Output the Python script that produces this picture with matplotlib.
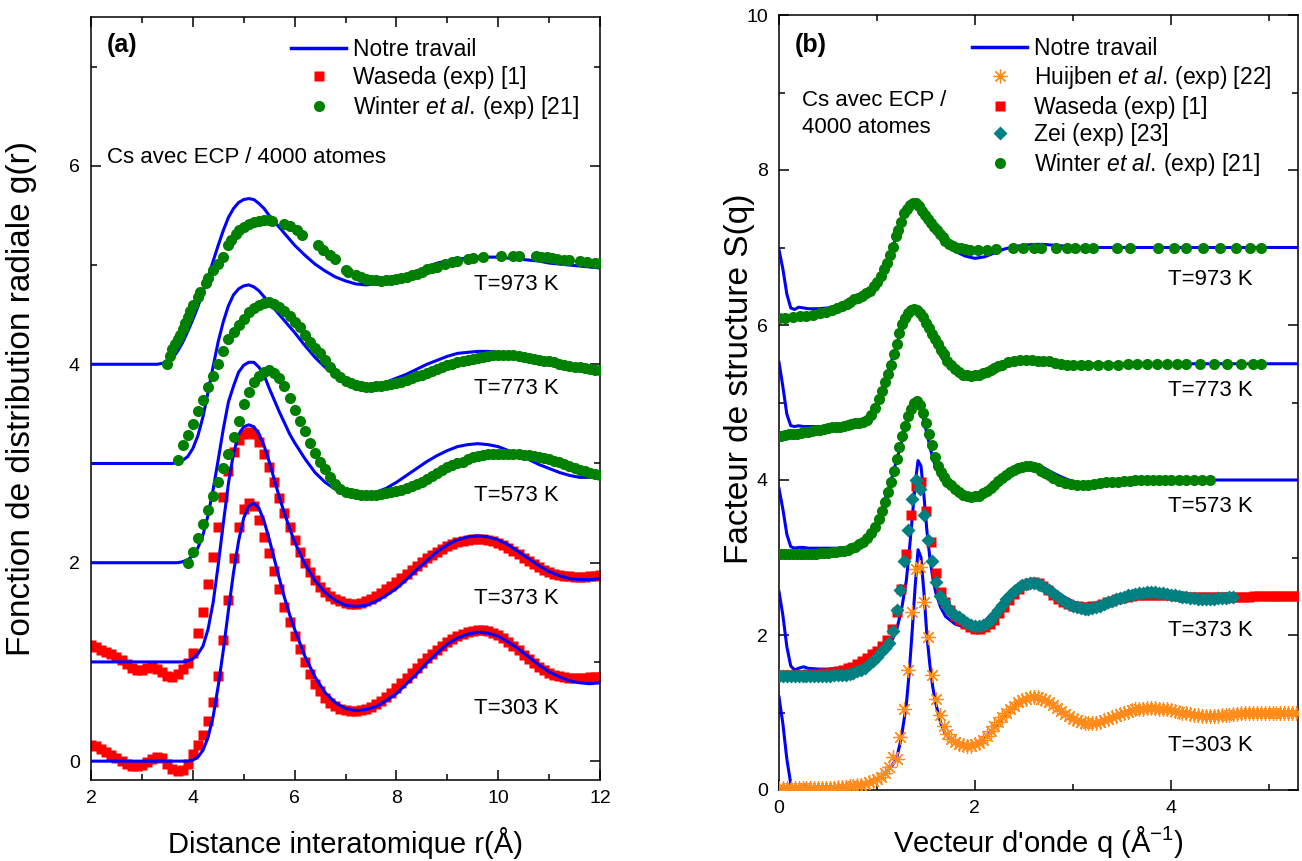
import numpy as np
import matplotlib
matplotlib.use("Agg")
import matplotlib.pyplot as plt
from matplotlib.lines import Line2D
from matplotlib.ticker import MultipleLocator

plt.rcParams['font.family'] = ['Liberation Sans', 'DejaVu Sans']
plt.rcParams['mathtext.fontset'] = 'custom'
plt.rcParams['mathtext.rm'] = 'Liberation Sans'
plt.rcParams['mathtext.it'] = 'Liberation Sans:italic'

temps = ['T=303 K', 'T=373 K', 'T=573 K', 'T=773 K', 'T=973 K']
shift_g = [0, 1, 2, 3, 4]
shift_s = [0, 1.5, 3, 4.5, 6]

# ---------------- g(r) : simulation ----------------
r_sim = [2.0, 2.5, 3.0, 3.3, 3.5, 3.6, 3.7, 3.8, 3.9, 4.0,
         4.1, 4.2, 4.3, 4.4, 4.5, 4.6, 4.7, 4.8, 4.9, 5.0,
         5.1, 5.2, 5.3, 5.4, 5.5, 5.6, 5.7, 5.8, 5.9, 6.0,
         6.2, 6.4, 6.6, 6.8, 7.0, 7.2, 7.4, 7.6, 7.8, 8.0,
         8.2, 8.4, 8.6, 8.8, 9.0, 9.2, 9.4, 9.6, 9.8, 10.0,
         10.2, 10.4, 10.6, 10.8, 11.0, 11.2, 11.4, 11.6, 11.8, 12.0]

g_303 = [0, 0, 0, 0, 0, 0, 0, 0, 0.0, 0.01,
         0.04, 0.11, 0.24, 0.45, 0.76, 1.12, 1.52, 1.9, 2.22, 2.45,
         2.57, 2.60, 2.55, 2.42, 2.24, 2.04, 1.84, 1.65, 1.48, 1.33,
         1.06, 0.85, 0.69, 0.59, 0.53, 0.51, 0.52, 0.55, 0.61, 0.68,
         0.78, 0.88, 0.99, 1.09, 1.18, 1.24, 1.28, 1.30, 1.29, 1.26,
         1.20, 1.13, 1.05, 0.97, 0.90, 0.85, 0.81, 0.79, 0.78, 0.79]
g_373 = [0, 0, 0, 0, 0, 0, 0, 0, 0.01, 0.03,
         0.08, 0.16, 0.33, 0.6, 0.98, 1.4, 1.8, 2.1, 2.29, 2.37,
         2.39, 2.37, 2.30, 2.18, 2.02, 1.84, 1.66, 1.50, 1.35, 1.21,
         0.99, 0.82, 0.70, 0.62, 0.57, 0.56, 0.57, 0.61, 0.67, 0.74,
         0.83, 0.93, 1.02, 1.11, 1.18, 1.23, 1.26, 1.27, 1.26, 1.23,
         1.18, 1.11, 1.04, 0.97, 0.91, 0.87, 0.84, 0.83, 0.83, 0.84]
g_573 = [0, 0, 0, 0, 0, 0, 0, 0.01, 0.03, 0.07,
         0.15, 0.28, 0.48, 0.74, 1.04, 1.35, 1.62, 1.78, 1.92, 1.99,
         2.02, 2.02, 1.97, 1.89, 1.76, 1.64, 1.52, 1.41, 1.30, 1.21,
         1.05, 0.91, 0.81, 0.74, 0.70, 0.68, 0.69, 0.71, 0.75, 0.81,
         0.88, 0.95, 1.02, 1.08, 1.13, 1.17, 1.19, 1.20, 1.19, 1.17,
         1.13, 1.09, 1.04, 0.99, 0.95, 0.91, 0.88, 0.86, 0.86, 0.86]
g_773 = [0, 0, 0, 0, 0, 0, 0.01, 0.03, 0.07, 0.15,
         0.28, 0.47, 0.72, 0.98, 1.23, 1.43, 1.59, 1.70, 1.76, 1.79,
         1.80, 1.78, 1.74, 1.68, 1.62, 1.56, 1.50, 1.44, 1.38, 1.32,
         1.19, 1.07, 0.97, 0.89, 0.83, 0.80, 0.79, 0.80, 0.82, 0.86,
         0.90, 0.95, 1.00, 1.04, 1.08, 1.11, 1.12, 1.13, 1.13, 1.12,
         1.10, 1.08, 1.05, 1.02, 1.00, 0.98, 0.97, 0.96, 0.96, 0.96]
g_973 = [0, 0, 0, 0, 0.02, 0.06, 0.13, 0.22, 0.33, 0.45,
         0.58, 0.73, 0.88, 1.04, 1.20, 1.35, 1.48, 1.57, 1.63, 1.66,
         1.67, 1.66, 1.62, 1.57, 1.50, 1.44, 1.38, 1.32, 1.26, 1.20,
         1.10, 1.01, 0.94, 0.88, 0.84, 0.81, 0.80, 0.81, 0.83, 0.86,
         0.90, 0.94, 0.98, 1.02, 1.04, 1.06, 1.07, 1.08, 1.08, 1.08,
         1.07, 1.06, 1.05, 1.04, 1.02, 1.01, 1.00, 0.99, 0.98, 0.97]

# ---------------- g(r) : Waseda ----------------
r_waseda = np.round(np.arange(2.0, 12.05, 0.1), 2)
gw_303 = [0.16, 0.15, 0.12, 0.09, 0.06, 0.03, 0.00, -0.03, -0.05, -0.05,
          -0.04, -0.01, 0.02, 0.04, 0.03, -0.03, -0.08, -0.10, -0.09, -0.03,
          0.07, 0.16, 0.26, 0.40, 0.60, 0.86, 1.22, 1.62, 2.05, 2.36,
          2.54, 2.60, 2.57, 2.43, 2.26, 2.10, 1.92, 1.73, 1.55, 1.40,
          1.26, 1.13, 1.00, 0.88, 0.78, 0.71, 0.64, 0.59, 0.56, 0.53,
          0.52, 0.51, 0.51, 0.52, 0.53, 0.55, 0.58, 0.61, 0.65, 0.69,
          0.74, 0.79, 0.84, 0.89, 0.94, 0.99, 1.04, 1.08, 1.12, 1.16,
          1.20, 1.23, 1.26, 1.28, 1.30, 1.31, 1.32, 1.32, 1.31, 1.29,
          1.27, 1.24, 1.20, 1.16, 1.12, 1.07, 1.03, 0.99, 0.95, 0.92,
          0.89, 0.87, 0.86, 0.85, 0.84, 0.84, 0.84, 0.84, 0.85, 0.85,
          0.85]
gw_373 = [0.17, 0.15, 0.12, 0.10, 0.08, 0.05, 0.02, -0.02, -0.06, -0.08,
          -0.08, -0.06, -0.05, -0.07, -0.10, -0.14, -0.15, -0.12, -0.07, -0.01,
          0.09, 0.29, 0.50, 0.79, 1.06, 1.36, 1.66, 1.92, 2.12, 2.24,
          2.30, 2.32, 2.30, 2.22, 2.10, 1.96, 1.81, 1.65, 1.50, 1.36,
          1.23, 1.11, 1.00, 0.91, 0.83, 0.76, 0.70, 0.66, 0.63, 0.61,
          0.59, 0.58, 0.58, 0.59, 0.61, 0.63, 0.66, 0.69, 0.73, 0.77,
          0.81, 0.85, 0.89, 0.93, 0.97, 1.01, 1.05, 1.08, 1.11, 1.14,
          1.17, 1.19, 1.21, 1.22, 1.23, 1.24, 1.24, 1.24, 1.23, 1.22,
          1.20, 1.18, 1.15, 1.12, 1.09, 1.05, 1.02, 0.99, 0.96, 0.93,
          0.91, 0.89, 0.88, 0.87, 0.87, 0.86, 0.86, 0.86, 0.87, 0.87,
          0.88]

# ---------------- g(r) : Winter et al. ----------------
r_w573 = np.round(np.arange(3.9, 12.05, 0.1), 2)
gw_573 = [0.0,
          0.11, 0.25, 0.39, 0.53, 0.67, 0.81, 0.95, 1.10, 1.27, 1.43,
          1.60, 1.72, 1.82, 1.88, 1.92, 1.94, 1.91, 1.86, 1.78, 1.66,
          1.54, 1.43, 1.33, 1.21, 1.11, 1.02, 0.94, 0.86, 0.79, 0.74,
          0.71, 0.70, 0.69, 0.68, 0.68, 0.68, 0.68, 0.69, 0.70, 0.71,
          0.72, 0.73, 0.75, 0.77, 0.79, 0.81, 0.84, 0.87, 0.90, 0.93,
          0.96, 0.98, 1.00, 1.02, 1.05, 1.07, 1.08, 1.09, 1.10, 1.10,
          1.10, 1.10, 1.10, 1.10, 1.10, 1.09, 1.09, 1.08, 1.07, 1.06,
          1.05, 1.03, 1.01, 0.99, 0.97, 0.95, 0.93, 0.92, 0.90, 0.89,
          0.88]
r_w773 = np.round(np.arange(3.7, 12.05, 0.1), 2)
gw_773 = [0.04, 0.19, 0.29,
          0.40, 0.53, 0.64, 0.77, 0.88, 1.00, 1.13, 1.25, 1.33, 1.40,
          1.46, 1.53, 1.57, 1.60, 1.62, 1.63, 1.61, 1.58, 1.54, 1.49,
          1.43, 1.38, 1.30, 1.22, 1.16, 1.11, 1.04, 0.97, 0.91, 0.87,
          0.83, 0.81, 0.79, 0.78, 0.77, 0.77, 0.78, 0.78, 0.79, 0.80,
          0.81, 0.82, 0.84, 0.86, 0.88, 0.89, 0.91, 0.93, 0.95, 0.97,
          0.99, 1.00, 1.02, 1.03, 1.04, 1.05, 1.06, 1.07, 1.08, 1.09,
          1.09, 1.09, 1.09, 1.09, 1.08, 1.07, 1.06, 1.05, 1.04, 1.03,
          1.03, 1.02, 1.00, 0.99, 0.98, 0.97, 0.97, 0.96, 0.95, 0.94,
          0.94]
r_w973 = [3.5, 3.55, 3.6, 3.65, 3.7, 3.75, 3.8, 3.85, 3.9, 3.95,
          4.0, 4.1, 4.15, 4.25, 4.3, 4.4, 4.5, 4.6, 4.7, 4.75,
          4.85, 4.9, 5.0, 5.1, 5.2, 5.3, 5.4, 5.5, 5.55, 5.8,
          5.9, 6.05, 6.15, 6.45, 6.55, 6.7, 6.8, 7.0, 7.05, 7.2,
          7.3, 7.4, 7.5, 7.6, 7.7, 7.8, 7.9, 8.0, 8.1, 8.2,
          8.3, 8.4, 8.5, 8.6, 8.7, 8.8, 8.95, 9.1, 9.2, 9.4,
          9.5, 9.7, 10.05, 10.3, 10.4, 10.75, 10.85, 10.95, 11.05, 11.15,
          11.3, 11.4, 11.6, 11.75, 11.9, 12.0]
gw_973 = [0.0, 0.08, 0.15, 0.2, 0.25, 0.3, 0.36, 0.42, 0.48, 0.54,
          0.6, 0.68, 0.73, 0.82, 0.87, 0.95, 1.01, 1.08, 1.2, 1.25,
          1.31, 1.35, 1.38, 1.41, 1.43, 1.44, 1.45, 1.45, 1.44, 1.41,
          1.39, 1.35, 1.3, 1.2, 1.15, 1.1, 1.06, 0.95, 0.93, 0.9,
          0.88, 0.86, 0.85, 0.85, 0.84, 0.85, 0.85, 0.86, 0.87, 0.88,
          0.9, 0.91, 0.93, 0.96, 0.97, 0.98, 1.01, 1.03, 1.04, 1.06,
          1.07, 1.08, 1.09, 1.09, 1.09, 1.09, 1.08, 1.08, 1.07, 1.06,
          1.05, 1.05, 1.04, 1.03, 1.02, 1.02]

# ---------------- S(q) : simulation ----------------
q_sim = [0.0, 0.04, 0.08, 0.12, 0.16, 0.2, 0.25, 0.3, 0.4, 0.5,
         0.6, 0.7, 0.8, 0.9, 1.0, 1.05, 1.1, 1.15, 1.2, 1.25,
         1.3, 1.33, 1.36, 1.39, 1.42, 1.45, 1.48, 1.51, 1.54, 1.57,
         1.6, 1.65, 1.7, 1.8, 1.9, 2.0, 2.1, 2.2, 2.3, 2.4,
         2.5, 2.6, 2.7, 2.8, 2.9, 3.0, 3.1, 3.2, 3.3, 3.4,
         3.5, 3.6, 3.7, 3.8, 3.9, 4.0, 4.2, 4.4, 4.6, 4.8,
         5.0, 5.3]
s_303 = [1.2, 0.85, 0.4, 0.08, -0.01, 0.02, 0.06, 0.03, 0.02, 0.02,
         0.03, 0.04, 0.06, 0.09, 0.14, 0.18, 0.24, 0.31, 0.4, 0.68,
         1.1, 1.52, 2.05, 2.62, 3.1, 3.0, 2.55, 2.0, 1.62, 1.33,
         1.12, 0.87, 0.72, 0.61, 0.57, 0.59, 0.67, 0.8, 0.95, 1.08,
         1.17, 1.21, 1.18, 1.1, 1.0, 0.92, 0.87, 0.86, 0.88, 0.93,
         0.98, 1.02, 1.04, 1.05, 1.05, 1.03, 0.99, 0.96, 0.97, 0.99,
         1.0, 1.0]
s_373 = [1.06, 0.75, 0.35, 0.1, 0.05, 0.07, 0.09, 0.07, 0.06, 0.06,
         0.07, 0.08, 0.1, 0.14, 0.2, 0.25, 0.32, 0.42, 0.56, 0.82,
         1.2, 1.58, 2.0, 2.45, 2.75, 2.68, 2.3, 1.85, 1.5, 1.24,
         1.05, 0.86, 0.74, 0.64, 0.6, 0.61, 0.68, 0.8, 0.94, 1.06,
         1.14, 1.18, 1.16, 1.09, 1.0, 0.93, 0.89, 0.88, 0.9, 0.94,
         0.98, 1.02, 1.04, 1.04, 1.04, 1.02, 0.99, 0.97, 0.98, 0.99,
         1.0, 1.0]
s_573 = [0.89, 0.62, 0.3, 0.14, 0.12, 0.13, 0.13, 0.12, 0.12, 0.12,
         0.12, 0.13, 0.16, 0.24, 0.45, 0.62, 0.82, 1.02, 1.25, 1.48,
         1.7, 1.83, 1.95, 2.02, 2.03, 1.92, 1.76, 1.6, 1.44, 1.28,
         1.17, 1.05, 0.97, 0.86, 0.8, 0.79, 0.84, 0.94, 1.05, 1.14,
         1.19, 1.2, 1.16, 1.09, 1.03, 0.98, 0.96, 0.96, 0.97, 0.98,
         0.99, 1.0, 1.0, 1.0, 1.0, 1.0, 1.0, 1.0, 1.0, 1.0,
         1.0, 1.0]
s_773 = [1.02, 0.7, 0.35, 0.2, 0.19, 0.2, 0.19, 0.19, 0.19, 0.19,
         0.21, 0.23, 0.25, 0.29, 0.5, 0.65, 0.84, 1.04, 1.24, 1.45,
         1.6, 1.66, 1.7, 1.71, 1.69, 1.64, 1.57, 1.49, 1.41, 1.33,
         1.25, 1.11, 1.0, 0.89, 0.84, 0.83, 0.86, 0.92, 0.98, 1.03,
         1.06, 1.07, 1.06, 1.04, 1.02, 1.01, 1.0, 1.0, 1.0, 1.0,
         1.0, 1.0, 1.0, 1.0, 1.0, 1.0, 1.0, 1.0, 1.0, 1.0,
         1.0, 1.0]
s_973 = [0.97, 0.72, 0.4, 0.22, 0.2, 0.23, 0.22, 0.21, 0.21, 0.22,
         0.24, 0.28, 0.34, 0.42, 0.55, 0.63, 0.78, 0.95, 1.15, 1.33,
         1.46, 1.52, 1.55, 1.57, 1.56, 1.51, 1.44, 1.37, 1.31, 1.25,
         1.2, 1.11, 1.04, 0.95, 0.89, 0.86, 0.88, 0.93, 0.98, 1.01,
         1.03, 1.04, 1.04, 1.03, 1.02, 1.01, 1.0, 1.0, 1.0, 1.0,
         1.0, 1.0, 1.0, 1.0, 1.0, 1.0, 1.0, 1.0, 1.0, 1.0,
         1.0, 1.0]

# ---------------- S(q) : Huijben et al. (303 K) ----------------
q_huij = np.round(np.arange(0, 5.3, 0.04), 2)
s_huij = [0.03, 0.03, 0.03, 0.03, 0.03, 0.03, 0.03, 0.03, 0.03, 0.03,
          0.03, 0.03, 0.03, 0.03, 0.03, 0.04, 0.04, 0.04, 0.05, 0.05,
          0.06, 0.07, 0.08, 0.10, 0.12, 0.14, 0.17, 0.22, 0.30, 0.42,
          0.40, 0.68, 1.05, 1.55, 2.30, 2.85, 2.88, 2.42, 1.98, 1.48,
          1.18, 0.97, 0.82, 0.72, 0.66, 0.62, 0.60, 0.58, 0.57, 0.57,
          0.59, 0.61, 0.65, 0.70, 0.76, 0.82, 0.88, 0.94, 0.99, 1.04,
          1.09, 1.13, 1.16, 1.18, 1.20, 1.20, 1.20, 1.18, 1.16, 1.13,
          1.10, 1.06, 1.02, 0.98, 0.95, 0.92, 0.90, 0.88, 0.87, 0.86,
          0.86, 0.87, 0.88, 0.90, 0.92, 0.94, 0.96, 0.98, 1.00, 1.01,
          1.03, 1.04, 1.05, 1.05, 1.06, 1.06, 1.06, 1.05, 1.05, 1.04,
          1.03, 1.02, 1.01, 1.00, 0.99, 0.98, 0.97, 0.97, 0.96, 0.96,
          0.96, 0.96, 0.96, 0.97, 0.97, 0.97, 0.98, 0.98, 0.99, 0.99,
          0.99, 1.00, 1.00, 1.00, 1.00, 1.00, 1.00, 1.00, 1.00, 1.00,
          1.00, 1.00, 1.00]

# ---------------- S(q) : Waseda (373 K) ----------------
q_wased = np.round(np.arange(0, 5.33, 0.05), 2)
s_wased = [-0.02, -0.02, -0.02, -0.01, -0.01, -0.01, 0.0, 0.0, 0.0, 0.01,
           0.01, 0.02, 0.03, 0.05, 0.07, 0.09, 0.12, 0.16, 0.2, 0.25,
           0.3, 0.36, 0.44, 0.58, 0.8, 1.1, 1.55, 2.05, 2.42, 2.48,
           2.1, 1.7, 1.3, 1.05, 0.92, 0.82, 0.75, 0.69, 0.64, 0.6,
           0.58, 0.58, 0.6, 0.64, 0.7, 0.78, 0.86, 0.95, 1.03, 1.09,
           1.14, 1.17, 1.18, 1.17, 1.13, 1.08, 1.02, 0.97, 0.93, 0.9,
           0.88, 0.87, 0.86, 0.86, 0.87, 0.88, 0.9, 0.92, 0.94, 0.96,
           0.98, 0.99, 1.0, 1.01, 1.02, 1.02, 1.02, 1.02, 1.02, 1.01,
           1.01, 1.0, 1.0, 0.99, 0.99, 0.99, 0.99, 0.99, 0.99, 0.99,
           0.99, 0.99, 0.99, 0.99, 0.99, 0.99, 0.99, 1.0, 1.0, 1.0,
           1.0, 1.0, 1.0, 1.0, 1.0, 1.0, 1.0]

# ---------------- S(q) : Zei (373 K) ----------------
q_zei = np.round(np.arange(0, 4.66, 0.04), 2)
s_zei = [-0.03, -0.03, -0.03, -0.03, -0.03, -0.03, -0.03, -0.03, -0.03, -0.03,
         -0.03, -0.03, -0.03, -0.03, -0.02, -0.02, -0.01, -0.01, 0.0, 0.01,
         0.03, 0.05, 0.08, 0.12, 0.17, 0.22, 0.28, 0.33, 0.40, 0.55,
         0.82, 1.08, 1.45, 1.85, 2.25, 2.50, 2.38, 2.05, 1.72, 1.45,
         1.18, 1.00, 0.92, 0.86, 0.80, 0.76, 0.73, 0.70, 0.66, 0.63,
         0.61, 0.61, 0.63, 0.66, 0.70, 0.76, 0.82, 0.89, 0.96, 1.02,
         1.07, 1.11, 1.14, 1.16, 1.17, 1.17, 1.16, 1.14, 1.11, 1.08,
         1.04, 1.00, 0.96, 0.93, 0.90, 0.88, 0.86, 0.85, 0.84, 0.84,
         0.85, 0.86, 0.88, 0.90, 0.92, 0.94, 0.96, 0.98, 0.99, 1.01,
         1.02, 1.03, 1.04, 1.04, 1.05, 1.05, 1.05, 1.04, 1.04, 1.03,
         1.02, 1.01, 1.00, 0.99, 0.99, 0.98, 0.98, 0.97, 0.97, 0.97,
         0.97, 0.97, 0.98, 0.98, 0.98, 0.99, 0.99]

# ---------------- S(q) : Winter et al. (573, 773, 973 K) ----------------
q_w573 = [0.02, 0.06, 0.1, 0.14, 0.18, 0.22, 0.26, 0.3, 0.34, 0.38,
          0.42, 0.46, 0.5, 0.54, 0.58, 0.62, 0.66, 0.7, 0.74, 0.78,
          0.82, 0.86, 0.9, 0.94, 0.98, 1.02, 1.05, 1.08, 1.11, 1.14,
          1.17, 1.2, 1.23, 1.26, 1.29, 1.32, 1.35, 1.38, 1.41, 1.44,
          1.47, 1.5, 1.53, 1.56, 1.59, 1.62, 1.65, 1.68, 1.72, 1.76,
          1.8, 1.84, 1.88, 1.92, 1.96, 2.0, 2.04, 2.08, 2.12, 2.16,
          2.2, 2.24, 2.28, 2.32, 2.36, 2.4, 2.44, 2.48, 2.52, 2.56,
          2.6, 2.64, 2.68, 2.72, 2.76, 2.8, 2.86, 2.92, 2.98, 3.04,
          3.1, 3.16, 3.22, 3.28, 3.34, 3.4, 3.46, 3.52, 3.58, 3.64,
          3.7, 3.76, 3.82, 3.88, 3.94, 4.0, 4.08, 4.16, 4.24, 4.32,
          4.4]
sw_573 = [0.05, 0.05, 0.05, 0.05, 0.05, 0.05, 0.05, 0.05, 0.05, 0.05,
          0.06, 0.06, 0.06, 0.07, 0.07, 0.08, 0.09, 0.1, 0.12, 0.14,
          0.17, 0.2, 0.25, 0.31, 0.4, 0.5, 0.6, 0.72, 0.85, 0.98,
          1.12, 1.27, 1.42, 1.57, 1.7, 1.82, 1.92, 1.99, 2.02, 1.97,
          1.86, 1.73, 1.6, 1.45, 1.3, 1.18, 1.1, 1.04, 0.98, 0.93,
          0.89, 0.85, 0.81, 0.79, 0.78, 0.79, 0.8, 0.83, 0.86, 0.9,
          0.94, 0.99, 1.03, 1.07, 1.1, 1.13, 1.15, 1.17, 1.18, 1.18,
          1.17, 1.15, 1.12, 1.09, 1.06, 1.03, 0.99, 0.96, 0.95, 0.94,
          0.94, 0.94, 0.95, 0.96, 0.97, 0.98, 0.98, 0.99, 0.99, 1.0,
          1.0, 1.0, 1.0, 1.0, 1.0, 1.0, 1.0, 1.0, 1.0, 1.0,
          1.0]
q_w773 = [0.02, 0.06, 0.1, 0.14, 0.18, 0.22, 0.26, 0.3, 0.34, 0.38,
          0.42, 0.46, 0.5, 0.54, 0.58, 0.62, 0.66, 0.7, 0.74, 0.78,
          0.82, 0.86, 0.9, 0.94, 0.98, 1.02, 1.05, 1.08, 1.11, 1.14,
          1.17, 1.2, 1.23, 1.26, 1.29, 1.32, 1.35, 1.38, 1.41, 1.44,
          1.47, 1.5, 1.53, 1.56, 1.59, 1.62, 1.65, 1.68, 1.72, 1.76,
          1.8, 1.84, 1.88, 1.92, 1.96, 2.0, 2.04, 2.08, 2.12, 2.16,
          2.2, 2.24, 2.28, 2.34, 2.4, 2.46, 2.52, 2.58, 2.64, 2.7,
          2.76, 2.82, 2.88, 2.94, 3.0, 3.08, 3.16, 3.26, 3.36, 3.46,
          3.56, 3.66, 3.76, 3.86, 3.96, 4.06, 4.16, 4.3, 4.44, 4.58,
          4.72, 4.84, 4.92]
sw_773 = [0.07, 0.08, 0.09, 0.1, 0.1, 0.11, 0.12, 0.12, 0.13, 0.14,
          0.15, 0.16, 0.17, 0.18, 0.18, 0.19, 0.2, 0.21, 0.22, 0.23,
          0.24, 0.25, 0.28, 0.34, 0.43, 0.55, 0.65, 0.76, 0.87, 0.99,
          1.12, 1.26, 1.4, 1.51, 1.59, 1.65, 1.69, 1.71, 1.7, 1.66,
          1.6, 1.53, 1.46, 1.39, 1.32, 1.25, 1.18, 1.12, 1.04, 0.98,
          0.93, 0.89, 0.86, 0.85, 0.84, 0.85, 0.86, 0.88, 0.9, 0.92,
          0.95, 0.97, 0.99, 1.02, 1.04, 1.05, 1.05, 1.05, 1.04, 1.04,
          1.03, 1.01, 1.0, 0.99, 0.98, 0.98, 0.98, 0.98, 0.99, 0.99,
          1.0, 1.0, 1.0, 1.0, 1.0, 1.0, 1.0, 1.0, 1.0, 1.0,
          1.0, 1.0, 1.0]
q_w973 = [0.0, 0.06, 0.14, 0.21, 0.28, 0.35, 0.42, 0.48, 0.54, 0.59,
          0.64, 0.69, 0.73, 0.77, 0.81, 0.85, 0.89, 0.93, 0.97, 1.0,
          1.04, 1.07, 1.1, 1.13, 1.16, 1.19, 1.22, 1.25, 1.28, 1.31,
          1.34, 1.37, 1.4, 1.43, 1.46, 1.49, 1.52, 1.55, 1.58, 1.61,
          1.64, 1.67, 1.7, 1.74, 1.78, 1.82, 1.86, 1.9, 1.95, 2.03,
          2.12, 2.22, 2.39, 2.49, 2.6, 2.68, 2.83, 2.94, 3.02, 3.12,
          3.21, 3.45, 3.58, 3.87, 4.03, 4.16, 4.33, 4.5, 4.67, 4.81,
          4.92]
sw_973 = [0.09, 0.09, 0.1, 0.11, 0.12, 0.13, 0.15, 0.17, 0.19, 0.22,
          0.24, 0.27, 0.3, 0.33, 0.35, 0.38, 0.41, 0.44, 0.5, 0.56,
          0.63, 0.72, 0.8, 0.9, 1.01, 1.15, 1.23, 1.33, 1.44, 1.5,
          1.55, 1.57, 1.58, 1.53, 1.47, 1.42, 1.37, 1.32, 1.27, 1.22,
          1.18, 1.13, 1.09, 1.05, 1.02, 1.0, 0.99, 0.98, 0.97, 0.97,
          0.97, 0.98, 0.99, 0.99, 0.99, 0.99, 0.99, 0.99, 0.99, 0.99,
          0.99, 0.99, 0.99, 0.99, 0.99, 0.99, 0.99, 0.99, 0.99, 0.99,
          0.99]

BLUE = '#0000ff'
RED = '#ff0000'
GREEN = '#008000'
TEAL = '#008080'
ORANGE = '#ff8c1a'

FS_TICK = 14
FS_XLABEL = 21
FS_YLABEL = 24
FS_TEXT = 16

fig = plt.figure(figsize=(13.02, 8.61), dpi=100)
ax1 = fig.add_axes([91 / 1302, 1 - 780 / 861, 509 / 1302, 763 / 861])
ax2 = fig.add_axes([779 / 1302, 1 - 790 / 861, 519 / 1302, 775 / 861])


def style_axis(ax):
    ax.tick_params(which='both', direction='in', top=True, right=True,
                   labelsize=FS_TICK, width=1.1)
    ax.tick_params(which='major', length=7)
    ax.tick_params(which='minor', length=4)
    ax.tick_params(axis='x', which='major', pad=7)
    ax.tick_params(axis='y', which='major', pad=8)
    for sp in ax.spines.values():
        sp.set_linewidth(1.1)


# ----- (a) g(r) -----
g_sim = [g_303, g_373, g_573, g_773, g_973]
for g, off in zip(g_sim, shift_g):
    ax1.plot(r_sim, np.array(g) + off, color=BLUE, lw=2.2, zorder=3)

ax1.plot(r_waseda, np.array(gw_303) + shift_g[0], 's', color=RED, ms=7, mec='none', zorder=2)
ax1.plot(r_waseda, np.array(gw_373) + shift_g[1], 's', color=RED, ms=7, mec='none', zorder=2)
ax1.plot(r_w573, np.array(gw_573) + shift_g[2], 'o', color=GREEN, ms=8, mec='none', zorder=4)
ax1.plot(r_w773, np.array(gw_773) + shift_g[3], 'o', color=GREEN, ms=8, mec='none', zorder=4)
ax1.plot(r_w973, np.array(gw_973) + shift_g[4], 'o', color=GREEN, ms=8, mec='none', zorder=4)

label_y_g = [0.53, 1.64, 2.68, 3.76, 4.80]
for t, y in zip(temps, label_y_g):
    ax1.text(9.52, y, t, fontsize=FS_TEXT, ha='left', va='center')

ax1.text(2.31, 7.22, '(a)', fontsize=18, fontweight='bold', ha='left', va='center')
ax1.text(2.31, 6.08, 'Cs avec ECP / 4000 atomes', fontsize=FS_TEXT, ha='left', va='center')

ax1.set_xlim(2, 12)
ax1.set_ylim(-0.19, 7.5)
ax1.xaxis.set_major_locator(MultipleLocator(2))
ax1.xaxis.set_minor_locator(MultipleLocator(1))
ax1.yaxis.set_major_locator(MultipleLocator(2))
ax1.yaxis.set_minor_locator(MultipleLocator(1))
style_axis(ax1)
ax1.set_xlabel('Distance interatomique r(Å)', fontsize=FS_XLABEL)
ax1.set_ylabel('Fonction de distribution radiale g(r)', fontsize=FS_YLABEL)
ax1.xaxis.set_label_coords(0.5, -0.062)
ax1.yaxis.set_label_coords(-0.106, 0.5)

h_line = Line2D([], [], color=BLUE, lw=2.5)
h_was = Line2D([], [], ls='none', marker='s', color=RED, ms=7, mec='none')
h_win = Line2D([], [], ls='none', marker='o', color=GREEN, ms=8, mec='none')
h_hui = Line2D([], [], ls='none', marker=(8, 2, 0), color=ORANGE, ms=10, mew=0.9)
h_zei = Line2D([], [], ls='none', marker='D', color=TEAL, ms=7, mec='none')

# italic "et al." through mathtext; the trailing thin space keeps the gap tight
lab_win = r'Winter $\mathit{et\ al.}\,$(exp) [21]'
lab_hui = r'Huijben $\mathit{et\ al.}\,$(exp) [22]'
ax1.legend([h_line, h_was, h_win],
           ['Notre travail', 'Waseda (exp) [1]', lab_win],
           loc='upper left', bbox_to_anchor=(0.393, 0.972), frameon=False,
           fontsize=16.5, handlelength=2.4, handletextpad=0.3,
           labelspacing=0.2, borderpad=0, borderaxespad=0, numpoints=1)

# ----- (b) S(q) -----
s_sim = [s_303, s_373, s_573, s_773, s_973]
for s, off in zip(s_sim, shift_s):
    ax2.plot(q_sim, np.array(s) + off, color=BLUE, lw=2.2, zorder=3)

ax2.plot(q_huij, np.array(s_huij) + shift_s[0], ls='none', marker=(8, 2, 0),
         color=ORANGE, ms=10.5, mew=0.9, zorder=4)
ax2.plot(q_wased, np.array(s_wased) + shift_s[1], 's', color=RED, ms=7, mec='none', zorder=4)
ax2.plot(q_zei, np.array(s_zei) + shift_s[1], 'D', color=TEAL, ms=7, mec='none', zorder=5)
ax2.plot(q_w573, np.array(sw_573) + shift_s[2], 'o', color=GREEN, ms=8, mec='none', zorder=4)
ax2.plot(q_w773, np.array(sw_773) + shift_s[3], 'o', color=GREEN, ms=8, mec='none', zorder=4)
ax2.plot(q_w973, np.array(sw_973) + shift_s[4], 'o', color=GREEN, ms=8, mec='none', zorder=4)

label_y_s = [0.57, 2.06, 3.66, 5.16, 6.59]
for t, y in zip(temps, label_y_s):
    ax2.text(3.97, y, t, fontsize=FS_TEXT, ha='left', va='center')

ax2.text(0.16, 9.61, '(b)', fontsize=18, fontweight='bold', ha='left', va='center')
ax2.text(0.23, 8.72, 'Cs avec ECP /\n4000 atomes', fontsize=FS_TEXT, ha='left',
         va='center', linespacing=1.4)

ax2.set_xlim(0, 5.3)
ax2.set_ylim(0, 10)
ax2.xaxis.set_major_locator(MultipleLocator(2))
ax2.xaxis.set_minor_locator(MultipleLocator(1))
ax2.yaxis.set_major_locator(MultipleLocator(2))
ax2.yaxis.set_minor_locator(MultipleLocator(1))
style_axis(ax2)
ax2.set_xlabel("Vecteur d'onde q (Å$^{-1}$)", fontsize=FS_XLABEL)
ax2.set_ylabel('Facteur de structure S(q)', fontsize=FS_YLABEL)
ax2.xaxis.set_label_coords(0.5, -0.044)
ax2.yaxis.set_label_coords(-0.046, 0.53)

ax2.legend([h_line, h_hui, h_was, h_zei, h_win],
           ['Notre travail', lab_hui, 'Waseda (exp) [1]', 'Zei (exp) [23]', lab_win],
           loc='upper left', bbox_to_anchor=(0.372, 0.972), frameon=False,
           fontsize=16.5, handlelength=2.4, handletextpad=0.3,
           labelspacing=0.2, borderpad=0, borderaxespad=0, numpoints=1)

fig.savefig('out.png', dpi=100)
